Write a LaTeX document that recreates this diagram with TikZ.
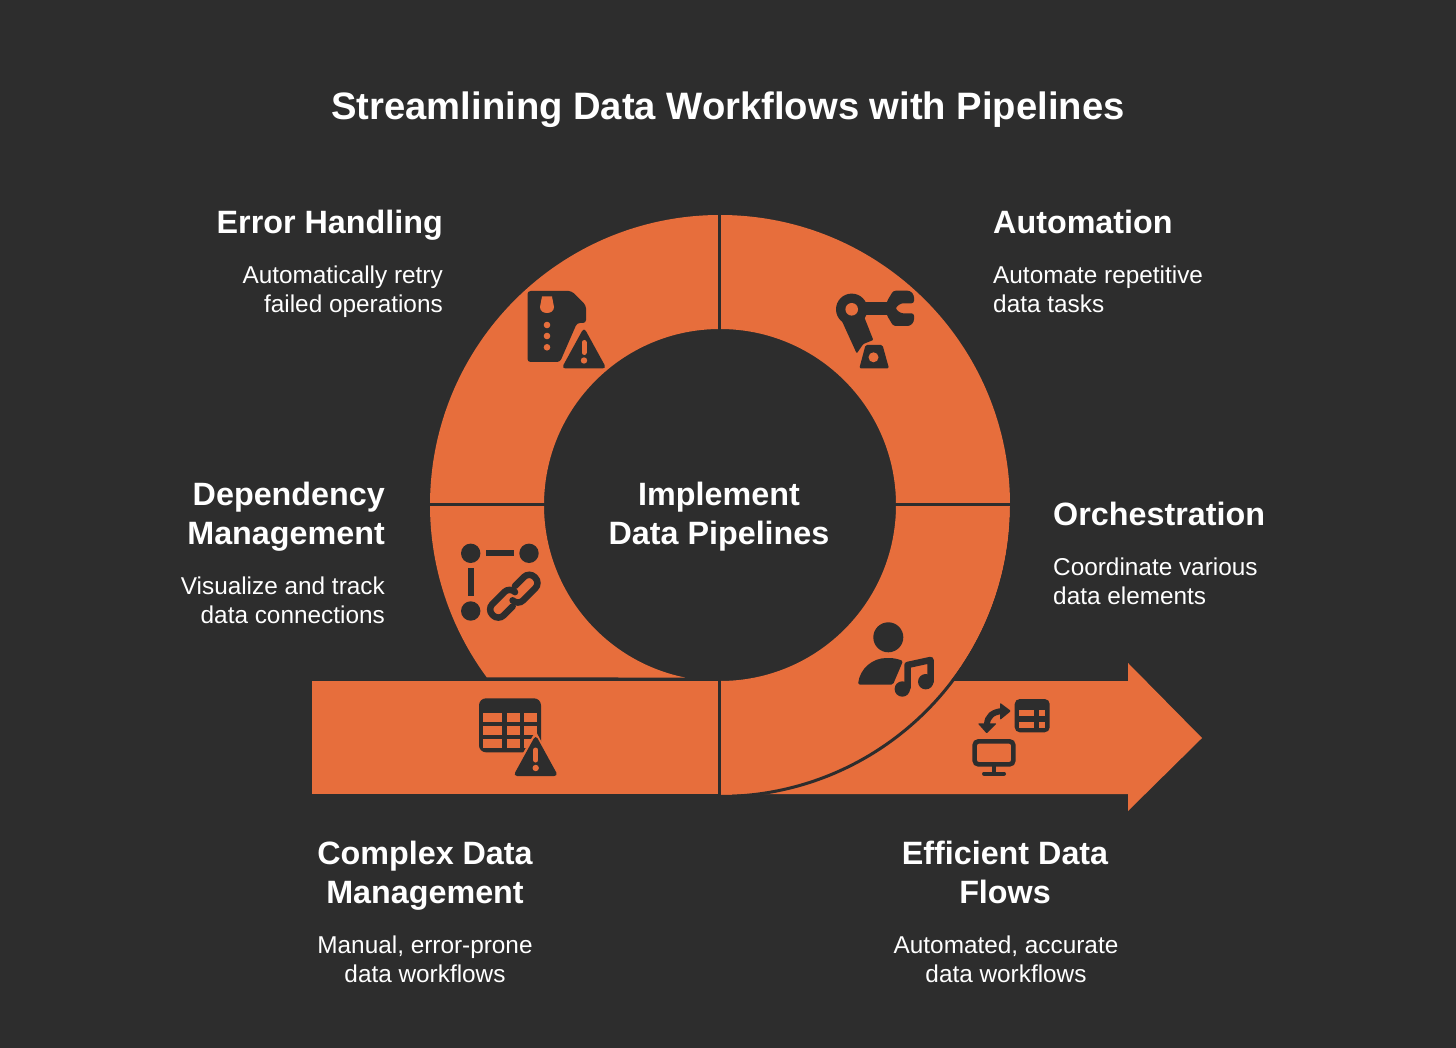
\documentclass[tikz,border=0pt]{standalone}
\usepackage{fontspec}
\setmainfont{Liberation Sans}
\definecolor{bgc}{HTML}{2D2D2D}
\definecolor{org}{HTML}{E76E3C}
\tikzset{
 seg/.style={fill=org,draw=none},
 divider/.style={draw=bgc,line width=3pt},
 ink/.style={fill=bgc,draw=none},
 hole/.style={fill=org,draw=none},
 titletxt/.style={text=white,font=\bfseries\fontsize{38.2}{44}\selectfont,inner sep=0pt},
 headtxt/.style={text=white,font=\bfseries\fontsize{32.3}{39}\selectfont,inner sep=0pt,align=#1},
 bodytxt/.style={text=white,font=\fontsize{24.35}{29}\selectfont,inner sep=0pt,align=#1},
}
\newcommand{\warntri}[3]{% apex x, apex y, scale
 \begin{scope}[shift={(#1,#2)},scale=#3]
  \path[fill=org] (0,-5) -- (-26,40) -- (24,40) -- cycle;
  \path[ink,rounded corners=4pt] (0,-1) -- (-22.5,40) -- (22.5,40) -- cycle;
  \draw[org,line width=5pt,line cap=round] (0,14) -- (0,24);
  \path[hole] (0,32) circle[radius=3.2pt];
 \end{scope}}
\begin{document}
\begin{tikzpicture}[x=1pt,y=-1pt]
\useasboundingbox (0,0) rectangle (1456,1048);
\fill[bgc] (0,0) rectangle (1456,1048);

% arrow and bar
\path[seg] (720,681) -- (1128,681) -- (1128,663) -- (1202,738) -- (1128,811) -- (1128,794) -- (720,794) -- cycle;
\path[seg] (312,681) rectangle (717.5,794);

% ring segments
\path[seg] (720,795) arc[start angle=270,end angle=360,radius=290pt] -- (896,505) arc[start angle=0,end angle=-90,radius=176pt] -- cycle;
\draw[bgc,line width=3pt] (720,796.5) arc[start angle=270,end angle=360,radius=291.5pt];
\path[seg] (1010,505) arc[start angle=0,end angle=90,radius=290pt] -- (720,329) arc[start angle=90,end angle=0,radius=176pt] -- cycle;
\path[seg] (720,215) arc[start angle=90,end angle=180,radius=290pt] -- (544,505) arc[start angle=180,end angle=90,radius=176pt] -- cycle;
\path[seg] (430,505) arc[start angle=180,end angle=216.5,radius=290pt] -- (684.9,677.5) arc[start angle=258.5,end angle=180,radius=176pt] -- cycle;

% dividers
\draw[divider] (719,213) -- (719,330);
\draw[divider] (428,504) -- (545,504);
\draw[divider] (895,504) -- (1012,504);
\draw[divider] (719,680) -- (719,796);

% icon: error handling
\path[ink,rounded corners=3pt] (527.5,291) -- (571.5,291) -- (586,305.5) -- (586,323) -- (577,323) -- (560,362) -- (527.5,362) -- cycle;
\path[hole] (542,296.5) -- (552,296.5) -- (554,307) .. controls (554,311) and (550.5,313) .. (547,313) .. controls (543.5,313) and (540,311) .. (540,307) -- cycle;
\path[hole] (547,325) circle[radius=3.3pt] (547,336) circle[radius=3.3pt] (547,347.3) circle[radius=3.3pt];
\warntri{584}{328.5}{1}

% icon: automation robot
\path[ink] (851.7,309.3) circle[radius=15.7pt];
\path[ink,rounded corners=1pt] (841,319) -- (856.7,353.5) -- (863.3,344) -- (873.3,340) -- (863,314) -- (855,305) -- cycle;
\path[ink] (860,301.7) rectangle (892,315);
\path[ink,rounded corners=2.5pt] (914,295) -- (914,303.3) -- (900.7,303.3) -- (895,308.3) -- (900.7,313.3) -- (914,313.3) -- (914,321.7) -- (910,326) -- (893.3,326) -- (886.7,315) -- (886.7,301.7) -- (893.3,290.7) -- (910,290.7) -- cycle;
\path[hole] (851.7,309.3) circle[radius=6.3pt];
\path[ink,rounded corners=1.5pt] (865.5,345) -- (882.5,345) -- (889,368.5) -- (859.3,368.5) -- cycle;
\path[hole] (873.5,357.3) circle[radius=5pt];

% icon: dependency
\path[ink] (470.7,553.3) circle[radius=9.7pt] (529,553.3) circle[radius=9.7pt] (470.7,611) circle[radius=9.7pt];
\path[ink] (485.7,550.2) rectangle (514,556.2);
\path[ink] (467.7,567.7) rectangle (474,596);
\begin{scope}[shift={(513.8,596.2)},rotate=45]
 \draw[bgc,line width=6.5pt,line cap=round,rounded corners=7.5pt] (-8,6.4) -- (-28.25,6.4) -- (-28.25,-9.6) -- (3.75,-9.6) -- (3.75,-2);
 \draw[bgc,line width=6.5pt,line cap=round,rounded corners=7.5pt] (8,-6.4) -- (28.25,-6.4) -- (28.25,9.6) -- (-3.75,9.6) -- (-3.75,2);
\end{scope}

% icon: table with warning
\path[ink] (479,698.3) [rounded corners=7pt] rectangle (541,752.3);
\foreach \ya/\yb in {712.7/721.7,725.7/735,739.3/747.7}{
 \foreach \xa/\xb in {483.3/502.3,506.7/520,524.3/536.7}{
  \path[hole] (\xa,\ya) rectangle (\xb,\yb);}}
\warntri{535.7}{736}{1}

% icon: person with note
\path[ink] (888.3,637.3) circle[radius=15pt];
\path[ink,rounded corners=1.5pt] (858,684.5) .. controls (860,668) and (873,658) .. (888,658) .. controls (893,658) and (898,659) .. (903,661) -- (893,684.5) -- cycle;
\draw[org,line width=11pt,line join=round,line cap=round] (907.5,688) -- (907.5,665) -- (930.5,660) -- (930.5,682);
\path[hole] (902.3,689) circle[radius=10pt] (925.7,681.7) circle[radius=10pt];
\draw[bgc,line width=6.5pt,line join=round,line cap=round] (907.5,688) -- (907.5,665) -- (930.5,660) -- (930.5,682);
\path[ink] (902.3,689) circle[radius=7.7pt] (925.7,681.7) circle[radius=7.7pt];

% icon: efficient flows
\draw[bgc,line width=4.6pt,rounded corners=4pt] (974.6,741.3) rectangle (1013.4,764.4);
\draw[bgc,line width=4pt] (994,766) -- (994,773.5);
\draw[bgc,line width=4pt,line cap=round] (984,773.5) -- (1004,773.5);
\path[ink] (1014.7,699) [rounded corners=5pt] rectangle (1049.7,732.3);
\foreach \ya/\yb in {710/716,721.7/727.7}{
 \foreach \xa/\xb in {1019/1034,1039/1045}{
  \path[hole] (\xa,\ya) rectangle (\xb,\yb);}}
\path[ink,rounded corners=1pt] (1000,702.7) -- (1011,711) -- (1000,720) -- cycle;
\path[ink,rounded corners=1pt] (977.7,723.3) -- (996.7,723.3) -- (986.7,733.5) -- cycle;
\draw[bgc,line width=6pt] (1002,711) .. controls (993,712) and (987,716) .. (987,725);

% texts
\node[titletxt] (title) at (728,110) {Streamlining Data Workflows with Pipelines};
\node[headtxt=right,anchor=east] (err) at (443,225) {Error Handling};
\node[bodytxt=right,anchor=east] (errb) at (443,292) {Automatically retry\\failed operations};
\node[headtxt=left,anchor=west] (auto) at (993,222) {Automation};
\node[bodytxt=left,anchor=west] (autob) at (993,289) {Automate repetitive\\data tasks};
\node[headtxt=right,anchor=east] (dep) at (385,517) {Dependency\\Management};
\node[bodytxt=right,anchor=east] (depb) at (385,600) {Visualize and track\\data connections};
\node[headtxt=center] (impl) at (719,517) {Implement\\Data Pipelines};
\node[headtxt=left,anchor=west] (orch) at (1053,514) {Orchestration};
\node[bodytxt=left,anchor=west] (orchb) at (1053,581) {Coordinate various\\data elements};
\node[headtxt=center] (cdm) at (425,876) {Complex Data\\Management};
\node[bodytxt=center] (cdmb) at (425,959.5) {Manual, error-prone\\data workflows};
\node[headtxt=center] (edf) at (1005,872.5) {Efficient Data\\Flows};
\node[bodytxt=center] (edfb) at (1006,959.5) {Automated, accurate\\data workflows};
\end{tikzpicture}
\end{document}
